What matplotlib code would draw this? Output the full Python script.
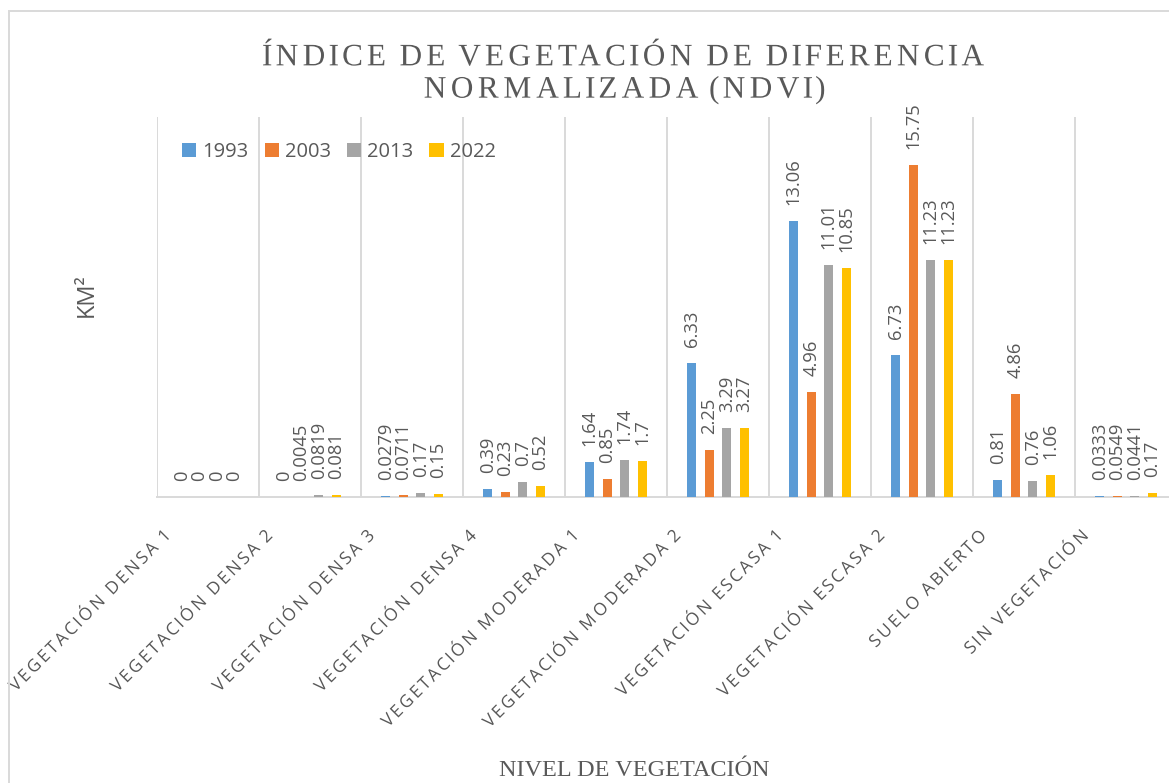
import matplotlib
matplotlib.use("Agg")
import matplotlib.pyplot as plt
import matplotlib.transforms as mtransforms
from matplotlib.patches import Rectangle
from matplotlib.patheffects import AbstractPathEffect
from matplotlib.path import Path
import numpy as np

categories = ["VEGETACIÓN DENSA 1", "VEGETACIÓN DENSA 2", "VEGETACIÓN DENSA 3",
              "VEGETACIÓN DENSA 4", "VEGETACIÓN MODERADA 1", "VEGETACIÓN MODERADA 2",
              "VEGETACIÓN ESCASA 1", "VEGETACIÓN ESCASA 2", "SUELO ABIERTO",
              "SIN VEGETACIÓN"]
years = ["1993", "2003", "2013", "2022"]
v1993 = [0, 0, 0.0279, 0.39, 1.64, 6.33, 13.06, 6.73, 0.81, 0.0333]
v2003 = [0, 0.0045, 0.0711, 0.23, 0.85, 2.25, 4.96, 15.75, 4.86, 0.0549]
v2013 = [0, 0.0819, 0.17, 0.7, 1.74, 3.29, 11.01, 11.23, 0.76, 0.0441]
v2022 = [0, 0.081, 0.15, 0.52, 1.7, 3.27, 10.85, 11.23, 1.06, 0.17]

colors = ["#5B9BD5", "#ED7D31", "#A5A5A5", "#FFC000"]
txt = "#595959"
grid_c = "#D9D9D9"


class Spaced(AbstractPathEffect):
    """fake letter spacing: move each glyph contour along the baseline"""
    def __init__(self, k, anchor="center"):
        super().__init__()
        self.k = k
        self.anchor = anchor

    def draw_path(self, renderer, gc, tpath, affine, rgbFace=None):
        verts = tpath.vertices.copy()
        codes = tpath.codes
        if codes is None:
            renderer.draw_path(gc, tpath, affine, rgbFace)
            return
        real = codes != Path.CLOSEPOLY
        x0, x1 = verts[real, 0].min(), verts[real, 0].max()
        ref = x1 if self.anchor == "right" else (x0 + x1) / 2
        starts = list(np.where(codes == Path.MOVETO)[0]) + [len(codes)]
        for s, e in zip(starts[:-1], starts[1:]):
            m = real[s:e]
            seg = verts[s:e, 0]
            cx = (seg[m].min() + seg[m].max()) / 2
            verts[s:e, 0] += self.k * (cx - ref)
        renderer.draw_path(gc, Path(verts, codes), affine, rgbFace)


fig = plt.figure(figsize=(11.69, 7.83), dpi=100)
ax = fig.add_axes([157/1169, 1-497/783, 1020/1169, 380/783])

x = np.arange(len(categories))
w = 0.091
step = 0.171
bars = []
for i, vals in enumerate([v1993, v2003, v2013, v2022]):
    b = ax.bar(x + (i - 1.5)*step, vals, width=w, color=colors[i], label=years[i], zorder=3)
    bars.append(b)
    for rect, v in zip(b, vals):
        ax.annotate(f"{v:g}", (rect.get_x() + rect.get_width()/2, v),
                    xytext=(0, 11.5), textcoords="offset points",
                    rotation=90, ha="center", va="bottom",
                    fontsize=13.2, family="Open Sans", color=txt)

ax.set_xlim(-0.5, len(categories) - 0.5)
ax.set_ylim(0, 18)
ax.set_yticks([])
ax.set_xticks(np.arange(-0.5, len(categories), 1), minor=True)
ax.grid(which="minor", axis="x", color=grid_c, lw=1.4, zorder=0)
ax.tick_params(axis="x", which="both", length=0, pad=0)
for s in ["top", "right", "left"]:
    ax.spines[s].set_visible(False)
ax.spines["bottom"].set_color(grid_c)
ax.spines["bottom"].set_linewidth(1.4)

ax.set_xticks(x)
ax.set_xticklabels(categories, rotation=45, ha="right", va="top",
                   rotation_mode="anchor", fontsize=12.5, family="Open Sans", color=txt)
offset = mtransforms.ScaledTranslation(-0.44, -0.30, fig.dpi_scale_trans)
for lab in ax.get_xticklabels():
    lab.set_transform(lab.get_transform() + offset)
    lab.set_path_effects([Spaced(0.24, anchor="right")])

ax.legend(handles=bars, labels=years, loc="center left",
          bbox_to_anchor=(172/1169, 1-152/783), bbox_transform=fig.transFigure,
          ncol=4, frameon=False, prop={"family": "Open Sans", "size": 14.5},
          handlelength=0.7, handleheight=0.7, handletextpad=0.3, columnspacing=0.8,
          borderpad=0, labelcolor=txt)

fig.text(87/1169, 1-295/783, "KM²", rotation=90, ha="center", va="center",
         fontsize=17, family="Open Sans", color=txt)
title = fig.text(624/1169, 1-74/783, "ÍNDICE DE VEGETACIÓN DE DIFERENCIA\nNORMALIZADA (NDVI)",
                 ha="center", va="center", fontsize=22.5, family="Liberation Serif",
                 color=txt, linespacing=1.15)
title.set_path_effects([Spaced(0.2)])
fig.text(634/1169, 1-771/783, "NIVEL DE VEGETACIÓN", ha="center", va="center",
         fontsize=17.5, family="Liberation Serif", color=txt)

fig.patches.append(Rectangle((9/1169, -0.1), 1.2, 1 - 11/783 + 0.1, fill=False,
                             edgecolor=grid_c, lw=1.4, transform=fig.transFigure))

fig.savefig("out.png", dpi=100)
